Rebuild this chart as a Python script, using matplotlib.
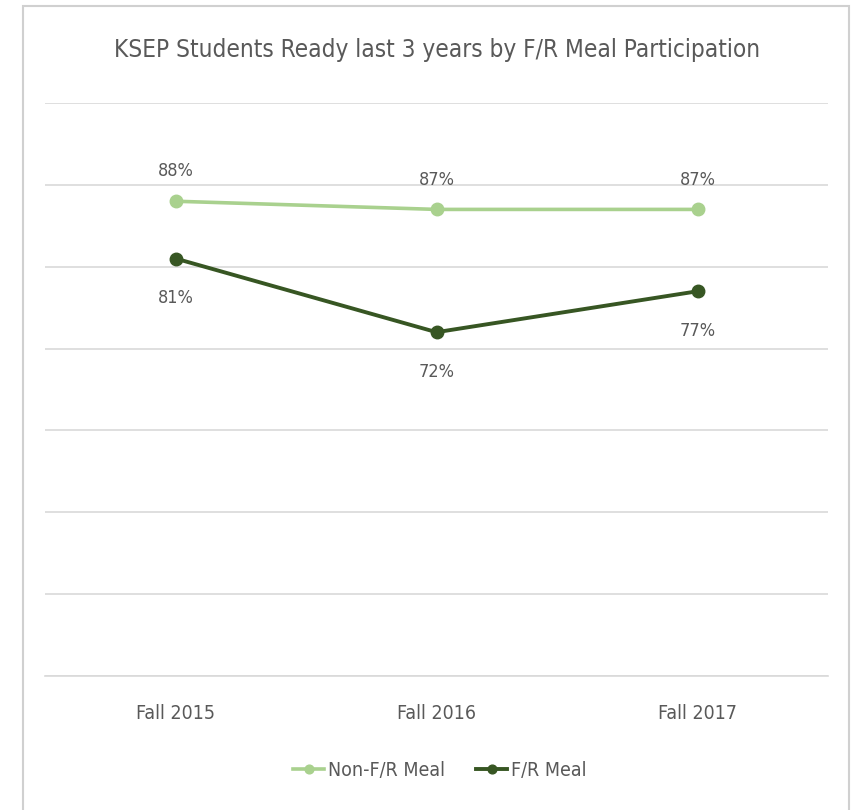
import matplotlib.pyplot as plt
from matplotlib.patches import Rectangle

# data
categories = ['Fall 2015', 'Fall 2016', 'Fall 2017']
non_fr_meal = [88, 87, 87]
fr_meal = [81, 72, 77]

plt.rcParams['font.family'] = ['DejaVu Sans']
plt.rcParams['font.stretch'] = 'condensed'

text_color = '#595959'
light_green = '#a9d18e'
dark_green = '#375623'

fig = plt.figure(figsize=(8.56, 8.10), dpi=100)
fig.patches.append(Rectangle((23 / 856, -0.01), 826 / 856, 1 - 6 / 810 + 0.01,
                             transform=fig.transFigure, fill=False,
                             edgecolor='#d0d0d0', linewidth=1.5))

ax = fig.add_axes([45 / 856, 1 - 676 / 810, 783 / 856, 573 / 810])
x = range(len(categories))

ax.plot(x, non_fr_meal, color=light_green, linewidth=2.6, marker='o',
        markersize=9, label='Non-F/R Meal', zorder=3)
ax.plot(x, fr_meal, color=dark_green, linewidth=2.8, marker='o',
        markersize=9, label='F/R Meal', zorder=3)

for i, v in enumerate(non_fr_meal):
    ax.annotate(f'{v}%', (i, v), xytext=(0, 15), textcoords='offset points',
                ha='center', va='bottom', fontsize=13, color=text_color)
for i, v in enumerate(fr_meal):
    ax.annotate(f'{v}%', (i, v), xytext=(0, -22), textcoords='offset points',
                ha='center', va='top', fontsize=13, color=text_color)

ax.set_xlim(-0.5, 2.5)
ax.set_ylim(30, 100)
ax.set_yticks(range(30, 101, 10))
ax.yaxis.grid(True, color='#d9d9d9', linewidth=1.2)
ax.set_axisbelow(True)
ax.tick_params(axis='y', left=False, labelleft=False)
ax.tick_params(axis='x', length=0, labelsize=14, labelcolor=text_color, pad=20)
ax.set_xticks(list(x))
ax.set_xticklabels(categories)
for s in ['top', 'right', 'left']:
    ax.spines[s].set_visible(False)
ax.spines['bottom'].set_color('#d9d9d9')
ax.spines['bottom'].set_linewidth(1.2)

fig.text(437 / 856, 1 - 50 / 810, 'KSEP Students Ready last 3 years by F/R Meal Participation',
         ha='center', va='center', fontsize=17.5, color=text_color)

fig.legend(loc='center', bbox_to_anchor=(440 / 856, 1 - 770 / 810), ncol=2,
           frameon=False, fontsize=14, labelcolor=text_color, handlelength=1.6,
           handletextpad=0.2, columnspacing=1.6, markerscale=0.7)

fig.savefig('out.png', dpi=100)
